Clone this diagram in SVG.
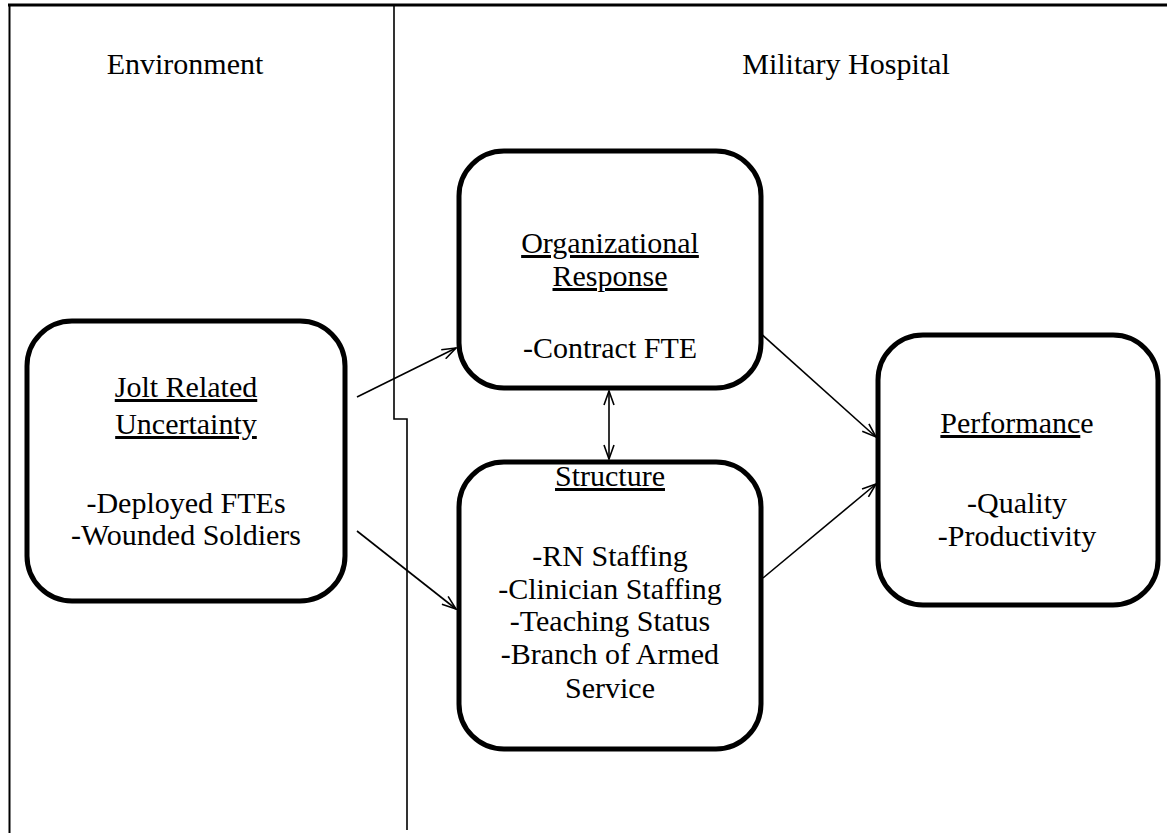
<svg xmlns="http://www.w3.org/2000/svg" width="1167" height="833" viewBox="0 0 1167 833">
<defs>
<style>
.t{font-family:"Liberation Serif","Times New Roman",serif;font-size:30px;fill:#000;text-anchor:middle}
.u{text-decoration:underline}
.box{fill:#fff;stroke:#000;stroke-width:5}
.frame{fill:none;stroke:#000;stroke-width:1.6}
.c{fill:none;stroke:#000;stroke-width:1.6}
</style>
<marker id="ah" viewBox="0 0 16 12" refX="15" refY="6" markerWidth="16" markerHeight="12" markerUnits="userSpaceOnUse" orient="auto-start-reverse">
<path d="M1,1 L15,6 L1,11" fill="none" stroke="#000" stroke-width="1.6"/>
</marker>
</defs>
<rect width="1167" height="833" fill="#fff"/>
<g id="frame">
<line x1="8" y1="5" x2="1167" y2="5" stroke="#000" stroke-width="3"/>
<line x1="9.5" y1="4" x2="9.5" y2="833" stroke="#000" stroke-width="2"/>
<polyline class="frame" points="394,5 394,419 407,419 407,830"/>
</g>
<g id="labels">
<text class="t" x="185" y="74">Environment</text>
<text class="t" x="846" y="74">Military Hospital</text>
</g>
<g id="connectors">
<line class="c" x1="357" y1="397" x2="456" y2="348" marker-end="url(#ah)"/>
<line class="c" x1="357" y1="531" x2="456" y2="609" marker-end="url(#ah)"/>
<line class="c" x1="738" y1="313" x2="876" y2="437" marker-end="url(#ah)"/>
<line class="c" x1="763" y1="578" x2="876" y2="484" marker-end="url(#ah)"/>
<line class="c" x1="609" y1="391" x2="609" y2="459" marker-start="url(#ah)" marker-end="url(#ah)"/>
</g>
<g id="jolt">
<rect class="box" x="27" y="321" width="318" height="280" rx="45"/>
<text class="t" x="186" y="397"><tspan class="u">Jolt Related</tspan></text>
<text class="t" x="186" y="434"><tspan class="u">Uncertainty</tspan></text>
<text class="t" x="186" y="513">-Deployed FTEs</text>
<text class="t" x="186" y="545">-Wounded Soldiers</text>
</g>
<g id="org">
<rect class="box" x="459" y="151" width="302" height="237" rx="45"/>
<text class="t" x="610" y="253"><tspan class="u">Organizational</tspan></text>
<text class="t" x="610" y="286"><tspan class="u">Response</tspan></text>
<text class="t" x="610" y="358">-Contract FTE</text>
</g>
<g id="structure">
<rect class="box" x="459" y="462" width="302" height="287" rx="45"/>
<text class="t" x="610" y="486"><tspan class="u">Structure</tspan></text>
<text class="t" x="610" y="566">-RN Staffing</text>
<text class="t" x="610" y="599">-Clinician Staffing</text>
<text class="t" x="610" y="631">-Teaching Status</text>
<text class="t" x="610" y="664">-Branch of Armed</text>
<text class="t" x="610" y="698">Service</text>
</g>
<g id="performance">
<rect class="box" x="878" y="335" width="280" height="270" rx="45"/>
<text class="t" x="1017" y="433"><tspan class="u">Performanc</tspan>e</text>
<text class="t" x="1017" y="513">-Quality</text>
<text class="t" x="1017" y="546">-Productivity</text>
</g>
</svg>
